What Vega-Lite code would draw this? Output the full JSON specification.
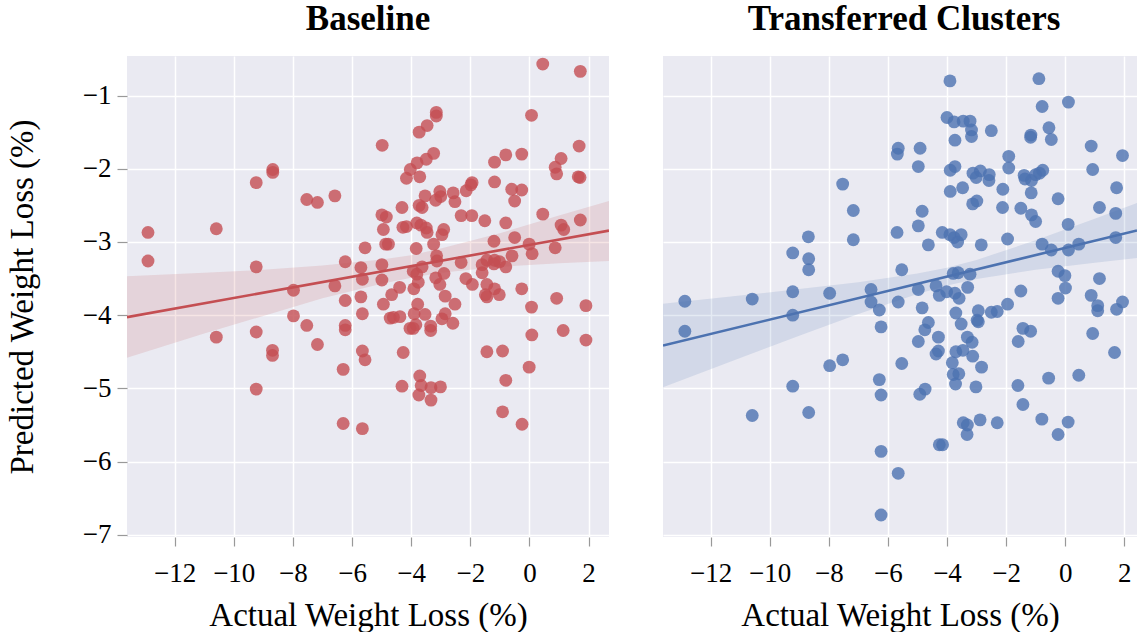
{
"$schema": "https://vega.github.io/schema/vega-lite/v6.json",
"background": "white",
"padding": {"left": 6, "top": 2, "right": 0, "bottom": 0},
"spacing": 54,
"datasets": {
"base": [
{"x":-12.90,"y":-2.87},{"x":-12.90,"y":-3.26},{"x":-10.59,"y":-2.82},{"x":-9.24,"y":-2.19},{"x":-8.68,"y":-2.01},{"x":-8.68,"y":-2.05},{"x":-7.53,"y":-2.42},{"x":-7.17,"y":-2.46},{"x":-6.58,"y":-2.37},{"x":-9.24,"y":-3.34},
{"x":-7.98,"y":-3.66},{"x":-6.23,"y":-3.27},{"x":-5.56,"y":-3.08},{"x":-5.70,"y":-3.35},{"x":-5.65,"y":-3.51},{"x":-6.58,"y":-3.60},{"x":-6.23,"y":-3.80},{"x":-5.70,"y":-3.75},{"x":-10.59,"y":-4.30},{"x":-9.24,"y":-4.23},
{"x":-8.69,"y":-4.48},{"x":-8.69,"y":-4.55},{"x":-9.24,"y":-5.01},{"x":-7.98,"y":-4.01},{"x":-7.53,"y":-4.14},{"x":-7.17,"y":-4.40},{"x":-6.23,"y":-4.14},{"x":-6.23,"y":-4.20},{"x":-5.65,"y":-3.98},{"x":-5.65,"y":-4.49},
{"x":-5.56,"y":-4.61},{"x":-6.30,"y":-4.74},{"x":-6.30,"y":-5.48},{"x":-5.65,"y":-5.55},{"x":0.45,"y":-0.57},{"x":1.72,"y":-0.67},{"x":-3.15,"y":-1.23},{"x":-3.15,"y":-1.28},{"x":-3.46,"y":-1.41},{"x":-3.73,"y":-1.50},
{"x":-4.98,"y":-1.68},{"x":0.07,"y":-1.27},{"x":1.68,"y":-1.69},{"x":-1.18,"y":-1.91},{"x":-0.80,"y":-1.81},{"x":-0.26,"y":-1.80},{"x":1.07,"y":-1.86},{"x":0.87,"y":-1.98},{"x":0.92,"y":-2.07},{"x":1.65,"y":-2.11},
{"x":1.71,"y":-2.12},{"x":-3.24,"y":-1.79},{"x":-3.49,"y":-1.87},{"x":-3.80,"y":-1.92},{"x":-4.03,"y":-2.01},{"x":-4.16,"y":-2.13},{"x":-3.71,"y":-2.11},{"x":-1.18,"y":-2.18},{"x":-1.94,"y":-2.19},{"x":-1.98,"y":-2.22},
{"x":-2.14,"y":-2.30},{"x":-0.60,"y":-2.28},{"x":-0.26,"y":-2.29},{"x":-0.50,"y":-2.44},{"x":-3.03,"y":-2.31},{"x":-3.00,"y":-2.38},{"x":-2.58,"y":-2.33},{"x":-2.52,"y":-2.45},{"x":-3.17,"y":-2.43},{"x":-3.53,"y":-2.37},
{"x":-3.73,"y":-2.50},{"x":-3.63,"y":-2.53},{"x":-4.31,"y":-2.53},{"x":-4.99,"y":-2.63},{"x":-4.84,"y":-2.66},{"x":-2.31,"y":-2.64},{"x":-1.95,"y":-2.64},{"x":-1.51,"y":-2.71},{"x":-0.80,"y":-2.74},{"x":0.45,"y":-2.62},
{"x":1.07,"y":-2.77},{"x":1.16,"y":-2.83},{"x":1.72,"y":-2.70},{"x":-4.28,"y":-2.80},{"x":-4.16,"y":-2.79},{"x":-4.94,"y":-2.83},{"x":-3.81,"y":-2.74},{"x":-3.67,"y":-2.77},{"x":-3.49,"y":-2.81},{"x":-3.46,"y":-2.87},
{"x":-2.90,"y":-2.83},{"x":-2.96,"y":-2.90},{"x":-4.86,"y":-3.03},{"x":-4.77,"y":-3.03},{"x":-3.83,"y":-3.09},{"x":-3.24,"y":-3.03},{"x":-1.20,"y":-2.99},{"x":-0.50,"y":-2.94},{"x":-0.01,"y":-3.03},{"x":0.09,"y":-3.16},
{"x":0.87,"y":-3.08},{"x":-3.14,"y":-3.19},{"x":-3.13,"y":-3.26},{"x":-0.59,"y":-3.19},{"x":-2.31,"y":-3.28},{"x":-1.60,"y":-3.31},{"x":-1.44,"y":-3.25},{"x":-1.18,"y":-3.25},{"x":-1.20,"y":-3.30},{"x":-1.01,"y":-3.27},
{"x":-0.80,"y":-3.34},{"x":-4.99,"y":-3.31},{"x":-3.93,"y":-3.40},{"x":-3.81,"y":-3.44},{"x":-3.63,"y":-3.34},{"x":-2.89,"y":-3.43},{"x":-3.17,"y":-3.49},{"x":-3.03,"y":-3.58},{"x":-3.76,"y":-3.55},{"x":-4.99,"y":-3.52},
{"x":-1.60,"y":-3.42},{"x":-2.15,"y":-3.50},{"x":-1.93,"y":-3.58},{"x":-1.44,"y":-3.58},{"x":-1.18,"y":-3.64},{"x":-1.02,"y":-3.72},{"x":-1.49,"y":-3.72},{"x":-1.44,"y":-3.75},{"x":-0.26,"y":-3.64},{"x":-4.39,"y":-3.62},
{"x":-4.66,"y":-3.72},{"x":-3.91,"y":-3.64},{"x":-2.85,"y":-3.74},{"x":0.92,"y":-3.77},{"x":-4.94,"y":-3.85},{"x":-4.71,"y":-4.04},{"x":-4.60,"y":-4.03},{"x":-4.38,"y":-4.02},{"x":-3.78,"y":-3.85},{"x":-3.90,"y":-3.98},
{"x":-3.53,"y":-3.99},{"x":-3.84,"y":-4.13},{"x":-4.04,"y":-4.18},{"x":-3.93,"y":-4.18},{"x":-3.34,"y":-4.15},{"x":-3.34,"y":-4.21},{"x":-2.52,"y":-3.85},{"x":-2.85,"y":-3.98},{"x":-2.96,"y":-4.05},{"x":-2.59,"y":-4.11},
{"x":0.07,"y":-3.89},{"x":1.91,"y":-3.87},{"x":0.08,"y":-4.27},{"x":1.14,"y":-4.21},{"x":1.91,"y":-4.34},{"x":-4.27,"y":-4.51},{"x":-1.44,"y":-4.50},{"x":-0.91,"y":-4.49},{"x":-0.01,"y":-4.71},{"x":-0.80,"y":-4.89},
{"x":-3.71,"y":-4.83},{"x":-4.31,"y":-4.97},{"x":-3.66,"y":-4.96},{"x":-3.33,"y":-4.99},{"x":-3.01,"y":-4.98},{"x":-3.74,"y":-5.09},{"x":-3.33,"y":-5.16},{"x":-0.91,"y":-5.32},{"x":-0.25,"y":-5.49}
],
"trans": [
{"x":-5.65,"y":-1.72},{"x":-5.68,"y":-1.80},{"x":-7.53,"y":-2.21},{"x":-7.17,"y":-2.57},{"x":-5.69,"y":-2.87},{"x":-8.69,"y":-2.93},{"x":-7.17,"y":-2.97},{"x":-9.22,"y":-3.15},{"x":-8.68,"y":-3.23},{"x":-8.68,"y":-3.38},
{"x":-5.53,"y":-3.38},{"x":-9.22,"y":-3.68},{"x":-7.97,"y":-3.70},{"x":-6.57,"y":-3.65},{"x":-12.87,"y":-3.81},{"x":-10.59,"y":-3.78},{"x":-12.87,"y":-4.22},{"x":-9.22,"y":-4.00},{"x":-6.57,"y":-3.82},{"x":-6.29,"y":-3.93},
{"x":-6.23,"y":-4.16},{"x":-5.65,"y":-3.82},{"x":-5.53,"y":-4.66},{"x":-7.53,"y":-4.61},{"x":-7.97,"y":-4.69},{"x":-6.29,"y":-4.88},{"x":-6.23,"y":-5.09},{"x":-9.22,"y":-4.97},{"x":-8.68,"y":-5.33},{"x":-10.59,"y":-5.37},
{"x":-6.23,"y":-5.86},{"x":-5.65,"y":-6.16},{"x":-6.23,"y":-6.73},{"x":-3.90,"y":-0.80},{"x":-0.89,"y":-0.77},{"x":-0.78,"y":-1.15},{"x":0.11,"y":-1.09},{"x":-4.00,"y":-1.30},{"x":-3.76,"y":-1.36},{"x":-3.45,"y":-1.35},
{"x":-3.22,"y":-1.35},{"x":-3.17,"y":-1.47},{"x":-3.17,"y":-1.56},{"x":-2.50,"y":-1.48},{"x":-3.73,"y":-1.61},{"x":-1.16,"y":-1.54},{"x":-1.17,"y":-1.57},{"x":-0.55,"y":-1.44},{"x":-0.47,"y":-1.60},{"x":-4.91,"y":-1.72},
{"x":-4.97,"y":-1.97},{"x":-3.73,"y":-1.97},{"x":-3.89,"y":-2.02},{"x":0.88,"y":-1.69},{"x":1.94,"y":-1.82},{"x":-1.91,"y":-1.83},{"x":-1.91,"y":-1.99},{"x":0.93,"y":-2.01},{"x":-3.12,"y":-2.06},{"x":-2.87,"y":-2.03},
{"x":-3.01,"y":-2.12},{"x":-2.57,"y":-2.08},{"x":-2.58,"y":-2.16},{"x":-1.39,"y":-2.09},{"x":-1.36,"y":-2.14},{"x":-1.14,"y":-2.16},{"x":-1.00,"y":-2.08},{"x":-0.87,"y":-2.06},{"x":-0.76,"y":-2.02},{"x":-3.89,"y":-2.31},
{"x":-3.47,"y":-2.26},{"x":-2.11,"y":-2.28},{"x":-1.15,"y":-2.33},{"x":-0.24,"y":-2.41},{"x":1.74,"y":-2.26},{"x":-2.99,"y":-2.44},{"x":-3.13,"y":-2.48},{"x":-2.12,"y":-2.53},{"x":-1.50,"y":-2.54},{"x":-1.14,"y":-2.63},
{"x":-1.00,"y":-2.72},{"x":1.16,"y":-2.53},{"x":1.71,"y":-2.61},{"x":-4.84,"y":-2.58},{"x":-4.97,"y":-2.78},{"x":-4.16,"y":-2.87},{"x":-3.90,"y":-2.90},{"x":-3.76,"y":-2.94},{"x":-3.64,"y":-3.00},{"x":-3.52,"y":-2.90},
{"x":-4.63,"y":-3.04},{"x":-2.84,"y":-3.04},{"x":-1.95,"y":-2.96},{"x":0.10,"y":-2.76},{"x":-0.78,"y":-3.03},{"x":-0.47,"y":-3.11},{"x":0.11,"y":-3.11},{"x":0.46,"y":-3.03},{"x":1.71,"y":-2.94},{"x":-3.79,"y":-3.43},
{"x":-3.62,"y":-3.42},{"x":-3.22,"y":-3.44},{"x":-0.24,"y":-3.40},{"x":-0.01,"y":-3.46},{"x":1.16,"y":-3.50},{"x":-4.97,"y":-3.65},{"x":-4.37,"y":-3.60},{"x":-4.26,"y":-3.73},{"x":-4.01,"y":-3.68},{"x":-3.73,"y":-3.70},
{"x":-3.59,"y":-3.77},{"x":-3.30,"y":-3.62},{"x":-1.50,"y":-3.67},{"x":0.01,"y":-3.63},{"x":-0.24,"y":-3.77},{"x":0.88,"y":-3.73},{"x":1.10,"y":-3.87},{"x":1.10,"y":-3.94},{"x":1.94,"y":-3.82},{"x":1.74,"y":-3.92},
{"x":-4.84,"y":-3.90},{"x":-3.70,"y":-3.97},{"x":-2.94,"y":-3.94},{"x":-2.98,"y":-4.07},{"x":-2.94,"y":-4.09},{"x":-2.50,"y":-3.96},{"x":-2.30,"y":-3.95},{"x":-1.95,"y":-3.85},{"x":-4.63,"y":-4.10},{"x":-4.75,"y":-4.20},
{"x":-3.52,"y":-4.12},{"x":-4.29,"y":-4.30},{"x":-4.97,"y":-4.36},{"x":-3.31,"y":-4.30},{"x":-3.15,"y":-4.37},{"x":-3.46,"y":-4.48},{"x":-3.70,"y":-4.50},{"x":-4.29,"y":-4.49},{"x":-4.37,"y":-4.53},{"x":-3.13,"y":-4.56},
{"x":-1.43,"y":-4.18},{"x":-1.17,"y":-4.22},{"x":-1.59,"y":-4.36},{"x":0.93,"y":-4.25},{"x":1.67,"y":-4.51},{"x":-3.82,"y":-4.65},{"x":-2.83,"y":-4.71},{"x":-3.79,"y":-4.81},{"x":-3.60,"y":-4.80},{"x":-3.71,"y":-4.94},
{"x":-3.02,"y":-4.98},{"x":-1.60,"y":-4.96},{"x":-0.56,"y":-4.86},{"x":0.46,"y":-4.82},{"x":-4.74,"y":-5.01},{"x":-4.92,"y":-5.08},{"x":-1.43,"y":-5.22},{"x":-3.45,"y":-5.47},{"x":-3.31,"y":-5.50},{"x":-3.32,"y":-5.63},
{"x":-2.88,"y":-5.43},{"x":-2.30,"y":-5.47},{"x":-0.79,"y":-5.42},{"x":0.10,"y":-5.46},{"x":-0.24,"y":-5.63},{"x":-4.26,"y":-5.77},{"x":-4.15,"y":-5.77}
],
"baseBand": [
{"x":-13.61,"y":-3.47,"lo":-4.58},{"x":-11,"y":-3.42,"lo":-4.25},{"x":-9,"y":-3.38,"lo":-4.01},{"x":-7,"y":-3.32,"lo":-3.77},{"x":-5,"y":-3.24,"lo":-3.57},{"x":-4,"y":-3.18,"lo":-3.49},{"x":-3,"y":-3.09,"lo":-3.42},{"x":-1,"y":-2.88,"lo":-3.34},{"x":1,"y":-2.64,"lo":-3.29},{"x":2.69,"y":-2.44,"lo":-3.26}
],
"transBand": [
{"x":-13.61,"y":-3.845,"lo":-4.985},{"x":-11,"y":-3.733,"lo":-4.586},{"x":-9,"y":-3.644,"lo":-4.282},{"x":-7,"y":-3.549,"lo":-3.985},{"x":-5,"y":-3.432,"lo":-3.71},{"x":-4,"y":-3.351,"lo":-3.595},{"x":-3,"y":-3.245,"lo":-3.506},{"x":-1,"y":-2.978,"lo":-3.38},{"x":1,"y":-2.683,"lo":-3.283},{"x":2.43,"y":-2.469,"lo":-3.219}
],
"baseLine": [{"x":-13.61,"y":-4.027},{"x":2.69,"y":-2.845}],
"transLine": [{"x":-13.61,"y":-4.415},{"x":2.43,"y":-2.843}]
},
"hconcat": [
{
"width": 482, "height": 481,
"title": {"text": "Baseline", "font": "Liberation Serif", "fontSize": 35, "fontWeight": "bold", "color": "black", "offset": 19},
"encoding": {
"x": {"field": "x", "type": "quantitative", "scale": {"domain": [-13.61, 2.69], "nice": false, "zero": false},
"axis": {"title": "Actual Weight Loss (%)", "values": [-12,-10,-8,-6,-4,-2,0,2], "tickSize": 9, "labelPadding": 14, "titlePadding": 13}},
"y": {"field": "y", "type": "quantitative", "scale": {"domain": [-7.03, -0.46], "nice": false, "zero": false},
"axis": {"title": "Predicted Weight Loss (%)", "values": [-7,-6,-5,-4,-3,-2,-1], "tickSize": 10, "labelPadding": 6, "minExtent": 80, "maxExtent": 80, "titlePadding": 8}}
},
"layer": [
{"data": {"name": "base"}, "mark": {"type": "circle", "size": 165, "color": "#C44E52", "opacity": 0.8}},
{"data": {"name": "baseBand"}, "mark": {"type": "area", "color": "#C44E52", "opacity": 0.15, "clip": true}, "encoding": {"y2": {"field": "lo"}}},
{"data": {"name": "baseLine"}, "mark": {"type": "line", "color": "#C44E52", "strokeWidth": 2.6, "clip": true}}
]
},
{
"width": 474, "height": 481,
"title": {"text": "Transferred Clusters", "font": "Liberation Serif", "fontSize": 35, "fontWeight": "bold", "color": "black", "offset": 19, "dx": 4},
"encoding": {
"x": {"field": "x", "type": "quantitative", "scale": {"domain": [-13.61, 2.43], "nice": false, "zero": false},
"axis": {"title": "Actual Weight Loss (%)", "values": [-12,-10,-8,-6,-4,-2,0,2], "tickSize": 9, "labelPadding": 14, "titlePadding": 13}},
"y": {"field": "y", "type": "quantitative", "scale": {"domain": [-7.03, -0.46], "nice": false, "zero": false},
"axis": {"title": null, "values": [-7,-6,-5,-4,-3,-2,-1], "labels": false, "ticks": false, "minExtent": 0, "maxExtent": 0}}
},
"layer": [
{"data": {"name": "trans"}, "mark": {"type": "circle", "size": 165, "color": "#4C72B0", "opacity": 0.8}},
{"data": {"name": "transBand"}, "mark": {"type": "area", "color": "#4C72B0", "opacity": 0.15, "clip": true}, "encoding": {"y2": {"field": "lo"}}},
{"data": {"name": "transLine"}, "mark": {"type": "line", "color": "#4C72B0", "strokeWidth": 2.6, "clip": true}}
]
}
],
"config": {
"view": {"fill": "#EAEAF2", "stroke": null},
"axis": {"grid": true, "gridColor": "white", "gridWidth": 1.5, "domain": false, "tickColor": "#999999", "tickWidth": 1.2,
"labelFont": "Liberation Serif", "labelFontSize": 27, "labelColor": "black", "labelFlush": false, "labelOverlap": false,
"titleFont": "Liberation Serif", "titleFontSize": 33, "titleFontWeight": "normal", "titleColor": "black"}
}
}
